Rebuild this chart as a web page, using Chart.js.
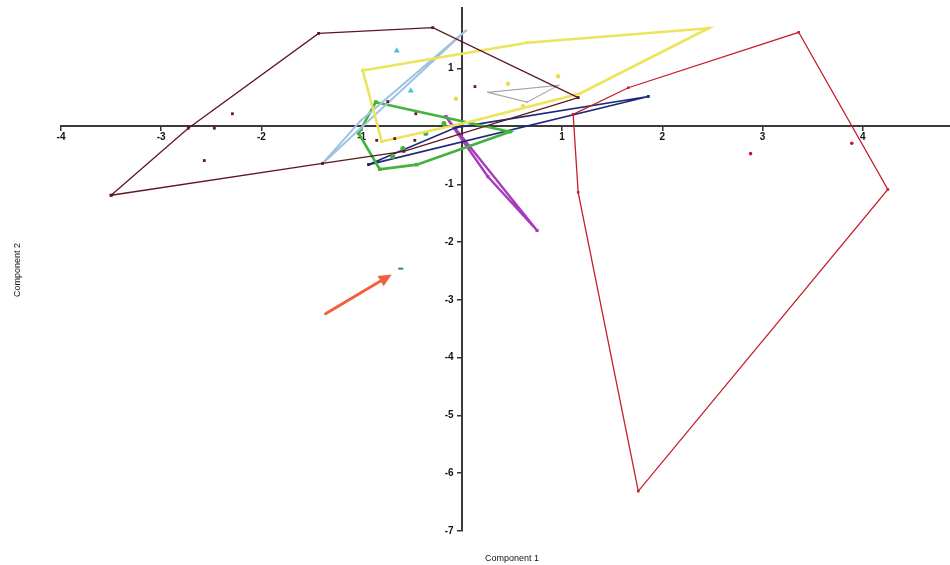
<!DOCTYPE html>
<html>
<head>
<meta charset="utf-8">
<script src="https://cdn.jsdelivr.net/npm/chart.js@4.4.1/dist/chart.umd.min.js"></script>
<style>
  html, body { margin: 0; padding: 0; background: #fff; overflow: hidden; }
  /* a few px wider than the window so the centred x axis runs to the right edge */
  #wrap { width: 956px; height: 565px; position: relative; }
</style>
</head>
<body>
<div id="wrap"><canvas id="pca"></canvas></div>
<script>
// Scores on the first two components, one hull per group.
// Hull arrays are closed (first point repeated at the end).

const xTicks = [-4, -3, -2, -1, 1, 2, 3, 4];
const yTicks = [-7, -6, -5, -4, -3, -2, -1, 1];

const maroonHullX = [-3.50, -2.73, -1.43, -0.29, 1.16, -0.58, -1.39, -3.50];
const maroonHullY = [-1.19, -0.03, 1.61, 1.71, 0.50, -0.43, -0.64, -1.19];
const maroonPtsX = [-2.29, -2.47, -2.57, -0.74, -0.46, -0.85, -0.67, -0.47, 0.13];
const maroonPtsY = [0.22, -0.03, -0.59, 0.43, 0.22, -0.24, -0.21, -0.24, 0.69];

const redHullX = [1.11, 1.66, 3.36, 4.25, 1.76, 1.16, 1.11];
const redHullY = [0.21, 0.67, 1.63, -1.09, -6.31, -1.14, 0.21];
const redPtsX = [2.88, 3.89];
const redPtsY = [-0.47, -0.29];

const yellowHullX = [-0.99, 0.65, 2.46, 1.18, 0.05, -0.80, -0.99];
const yellowHullY = [0.97, 1.45, 1.70, 0.57, 0.07, -0.26, 0.97];
const yellowPtsX = [-0.06, 0.46, 0.96, 0.61];
const yellowPtsY = [0.48, 0.74, 0.87, 0.35];

const greenHullX = [-0.86, 0.48, -0.45, -0.82, -1.03, -0.86];
const greenHullY = [0.42, -0.09, -0.66, -0.74, -0.12, 0.42];
const greenPtsX = [-0.36, -0.59, -0.69, -0.18];
const greenPtsY = [-0.12, -0.38, -0.52, 0.05];

const blueHullX = [-1.39, -1.01, 0.04, -1.39];
const blueHullY = [-0.64, 0.10, 1.66, -0.64];

const cyanPtsX = [-0.65, -0.51];
const cyanPtsY = [1.31, 0.62];

const grayHullX = [0.26, 0.96, 0.65, 0.26];
const grayHullY = [0.59, 0.71, 0.42, 0.59];

const purpleHullX = [-0.16, 0.75, 0.26, -0.16];
const purpleHullY = [0.17, -1.80, -0.87, 0.17];

const navyHullX = [-0.93, -0.06, 1.86, -0.93];
const navyHullY = [-0.66, -0.02, 0.52, -0.66];

// the lone sample the arrow points at
const outlierX = [-0.61];
const outlierY = [-2.46];

// arrow annotation, in data units
const arrowFrom = [-1.36, -3.24];
const arrowTo = [-0.70, -2.56];

function pts(xs, ys) {
  return xs.map((x, i) => ({ x, y: ys[i] }));
}

function hull(xs, ys, color, width, radius) {
  return {
    data: pts(xs, ys),
    showLine: true,
    borderColor: color,
    backgroundColor: color,
    borderWidth: width,
    pointRadius: radius,
    pointStyle: 'rect',
    pointBorderWidth: 0,
    tension: 0,
  };
}

function cloud(xs, ys, color, style, radius) {
  return {
    data: pts(xs, ys),
    showLine: false,
    borderColor: color,
    backgroundColor: color,
    pointStyle: style,
    pointRadius: radius,
    pointBorderWidth: style === 'line' ? 2 : 0,
  };
}

const axisTitles = {
  id: 'axisTitles',
  afterDraw(chart) {
    const ctx = chart.ctx;
    ctx.save();
    ctx.fillStyle = '#111';
    ctx.font = '9px "Liberation Sans", Arial, sans-serif';
    ctx.textAlign = 'center';
    ctx.textBaseline = 'middle';
    ctx.fillText('Component 1', 512, 559);
    ctx.translate(18, 270);
    ctx.rotate(-Math.PI / 2);
    ctx.fillText('Component 2', 0, 0);
    ctx.restore();
  },
};

const arrowMark = {
  id: 'arrowMark',
  afterDatasetsDraw(chart) {
    const { ctx, scales } = chart;
    const x1 = scales.x.getPixelForValue(arrowFrom[0]);
    const y1 = scales.y.getPixelForValue(arrowFrom[1]);
    const x2 = scales.x.getPixelForValue(arrowTo[0]);
    const y2 = scales.y.getPixelForValue(arrowTo[1]);
    const ang = Math.atan2(y2 - y1, x2 - x1);
    const head = 13;
    const bx = x2 - head * Math.cos(ang);
    const by = y2 - head * Math.sin(ang);
    ctx.save();
    ctx.strokeStyle = '#f2603f';
    ctx.fillStyle = '#f2603f';
    ctx.lineWidth = 3;
    ctx.lineCap = 'round';
    ctx.beginPath();
    ctx.moveTo(x1, y1);
    ctx.lineTo(bx, by);
    ctx.stroke();
    ctx.beginPath();
    ctx.moveTo(x2, y2);
    ctx.lineTo(bx + 6 * Math.sin(ang), by - 6 * Math.cos(ang));
    ctx.lineTo(bx - 6 * Math.sin(ang), by + 6 * Math.cos(ang));
    ctx.closePath();
    ctx.fill();
    ctx.restore();
  },
};

const tickFont = { family: '"Liberation Sans", Arial, sans-serif', size: 10, weight: 'bold' };

new Chart(document.getElementById('pca'), {
  type: 'scatter',
  data: {
    datasets: [
      hull(redHullX, redHullY, '#c4202c', 1.3, 1.8),
      cloud(redPtsX, redPtsY, '#b8202c', 'circle', 1.8),
      hull(maroonHullX, maroonHullY, '#5e1620', 1.3, 2),
      cloud(maroonPtsX, maroonPtsY, '#6a1a1a', 'rect', 2),
      hull(yellowHullX, yellowHullY, '#ece45a', 2.6, 2.2),
      cloud(yellowPtsX, yellowPtsY, '#e6de4c', 'circle', 2.2),
      hull(blueHullX, blueHullY, '#9ec2e2', 2, 1.5),
      hull(greenHullX, greenHullY, '#44b23c', 2.6, 2.5),
      cloud(greenPtsX, greenPtsY, '#44b23c', 'circle', 2.5),
      cloud(cyanPtsX, cyanPtsY, '#46c6da', 'triangle', 3.5),
      hull(grayHullX, grayHullY, '#a8a8a8', 1.2, 1),
      hull(navyHullX, navyHullY, '#1c2a7a', 1.6, 2),
      hull(purpleHullX, purpleHullY, '#a83cbc', 2.4, 2.2),
      cloud(outlierX, outlierY, '#2a8a8c', 'line', 2.5),
    ],
  },
  options: {
    responsive: true,
    maintainAspectRatio: false,
    animation: false,
    layout: { padding: { left: 61, right: 0, top: 8, bottom: 34 } },
    plugins: {
      legend: { display: false },
      tooltip: { enabled: false },
    },
    scales: {
      x: {
        type: 'linear',
        min: -4,
        max: 4.87,
        position: { y: 0 },
        afterBuildTicks: (axis) => { axis.ticks = xTicks.map(v => ({ value: v })); },
        grid: { drawOnChartArea: false, drawTicks: true, tickLength: 4, color: '#333', lineWidth: 1.5 },
        border: { display: true, color: '#3a3a3a', width: 2 },
        ticks: { color: '#111', font: tickFont, padding: 1, maxRotation: 0, autoSkip: false },
      },
      y: {
        type: 'linear',
        min: -7,
        max: 2.05,
        position: { x: 0 },
        afterBuildTicks: (axis) => { axis.ticks = yTicks.map(v => ({ value: v })); },
        afterFit: (axis) => { axis.paddingTop = 0; axis.paddingBottom = 0; },
        grid: { drawOnChartArea: false, drawTicks: true, tickLength: 4, color: '#333', lineWidth: 1.5 },
        border: { display: true, color: '#3a3a3a', width: 2 },
        // labels of a value-positioned y axis sit flush on the axis; pad with spaces
        ticks: { color: '#111', font: tickFont, autoSkip: false, callback: (v) => v + '   ' },
      },
    },
  },
  plugins: [axisTitles, arrowMark],
});
</script>
</body>
</html>
